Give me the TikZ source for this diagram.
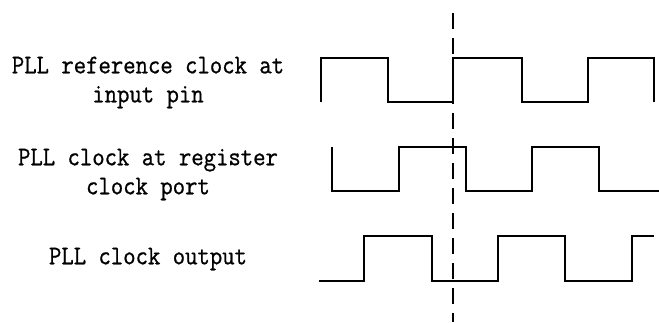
\documentclass[tikz,border=0pt]{standalone}
\usepackage{fontspec}
\usepackage{tikz}
\newfontfamily\lblfont{Latin Modern Mono}[FakeStretch=0.89, FakeBold=0.8]

\begin{document}
\begin{tikzpicture}[
      x=1pt, y=-1pt,
      lbl/.style={font=\fontsize{27}{29}\lblfont, align=center, inner sep=0pt},
      wave/.style={line width=1.8pt, line join=miter},
      marker/.style={line width=1.8pt, dash pattern=on 16pt off 9pt}
      ]
      \useasboundingbox (0,0) rectangle (659,322);

      \node[lbl] (lref) at (148,82.5) {PLL reference clock at\\input pin};
      \node[lbl] (lreg) at (148,174.5) {PLL clock at register\\clock port};
      \node[lbl] (lout) at (148,259) {PLL clock output};

  % reference clock
 \draw[wave] (321,102) -- (321,58) -- (388,58) -- (388,102) -- (453,102) -- (453,58)
   -- (522,58) -- (522,102) -- (588,102) -- (588,58) -- (654,58) -- (654,102);
  % register clock
 \draw[wave] (332,147) -- (332,191) -- (399,191) -- (399,147) -- (466,147) -- (466,191)
   -- (532,191) -- (532,147) -- (599,147) -- (599,191) -- (659,191);
  % pll output
 \draw[wave] (319,281) -- (364,281) -- (364,236) -- (432,236) -- (432,281) -- (498,281)
   -- (498,236) -- (565,236) -- (565,281) -- (632,281) -- (632,236) -- (654,236);

 \coordinate (markt) at (453,13);
 \coordinate (markb) at (453,322);
 \draw[marker] (markt) -- (markb);

\end{tikzpicture}
\end{document}
